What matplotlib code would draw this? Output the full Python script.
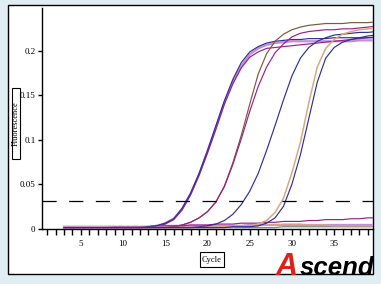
import matplotlib
matplotlib.use("Agg")
import matplotlib.pyplot as plt
import numpy as np
from matplotlib.patches import Rectangle

# ─────────────────────────────────────────────
# Datos (ciclos 3..40)
# ─────────────────────────────────────────────
ciclos = np.arange(3, 41)

azul_1 = [0.001, 0.001, 0.001, 0.001, 0.001, 0.001, 0.001, 0.001, 0.001, 0.001,
          0.002, 0.003, 0.006, 0.011, 0.023, 0.040, 0.062, 0.088, 0.116, 0.144,
          0.168, 0.187, 0.199, 0.205, 0.209, 0.211, 0.212, 0.213, 0.213, 0.214,
          0.214, 0.214, 0.215, 0.215, 0.215, 0.215, 0.215, 0.215]
purpura_1 = [0.001, 0.001, 0.001, 0.001, 0.001, 0.001, 0.001, 0.001, 0.001, 0.001,
             0.002, 0.003, 0.005, 0.010, 0.021, 0.038, 0.060, 0.085, 0.112, 0.140,
             0.163, 0.181, 0.193, 0.199, 0.203, 0.204, 0.205, 0.206, 0.207, 0.208,
             0.209, 0.210, 0.211, 0.212, 0.213, 0.214, 0.215, 0.216]
violeta_1 = [0.001, 0.001, 0.001, 0.001, 0.001, 0.001, 0.001, 0.001, 0.001, 0.001,
             0.002, 0.003, 0.006, 0.011, 0.022, 0.039, 0.061, 0.087, 0.114, 0.142,
             0.165, 0.183, 0.196, 0.203, 0.207, 0.209, 0.210, 0.211, 0.211, 0.211,
             0.211, 0.211, 0.211, 0.211, 0.211, 0.212, 0.212, 0.212]
marron_2 = [0.001, 0.001, 0.001, 0.001, 0.001, 0.001, 0.001, 0.001, 0.001, 0.001,
            0.001, 0.001, 0.001, 0.002, 0.004, 0.007, 0.012, 0.019, 0.030, 0.048,
            0.074, 0.105, 0.140, 0.174, 0.197, 0.211, 0.219, 0.224, 0.227, 0.229,
            0.230, 0.231, 0.231, 0.231, 0.232, 0.232, 0.232, 0.233]
magenta_2 = [0.001, 0.001, 0.001, 0.001, 0.001, 0.001, 0.001, 0.001, 0.001, 0.001,
             0.001, 0.001, 0.001, 0.002, 0.004, 0.007, 0.012, 0.019, 0.030, 0.047,
             0.072, 0.101, 0.132, 0.160, 0.182, 0.198, 0.208, 0.216, 0.220, 0.222,
             0.223, 0.224, 0.224, 0.225, 0.225, 0.226, 0.227, 0.228]
azul_3 = [0.001, 0.001, 0.001, 0.001, 0.001, 0.001, 0.001, 0.001, 0.001, 0.001,
          0.001, 0.001, 0.001, 0.001, 0.001, 0.001, 0.002, 0.003, 0.005, 0.009,
          0.016, 0.027, 0.042, 0.062, 0.088, 0.116, 0.145, 0.172, 0.192, 0.204,
          0.211, 0.215, 0.218, 0.219, 0.220, 0.221, 0.221, 0.222]
canela_4 = [0.001, 0.001, 0.001, 0.001, 0.001, 0.001, 0.001, 0.001, 0.001, 0.001,
            0.001, 0.001, 0.001, 0.001, 0.001, 0.001, 0.001, 0.001, 0.002, 0.002,
            0.002, 0.003, 0.003, 0.005, 0.009, 0.018, 0.034, 0.063, 0.097, 0.142,
            0.182, 0.203, 0.213, 0.219, 0.222, 0.224, 0.225, 0.226]
azul_4 = [0.001, 0.001, 0.001, 0.001, 0.001, 0.001, 0.001, 0.001, 0.001, 0.001,
          0.001, 0.001, 0.001, 0.001, 0.001, 0.001, 0.001, 0.001, 0.001, 0.001,
          0.002, 0.002, 0.002, 0.003, 0.006, 0.012, 0.025, 0.050, 0.083, 0.124,
          0.165, 0.192, 0.204, 0.210, 0.213, 0.215, 0.217, 0.218]

# negativos / línea base
magenta_neg = [0.001, 0.001, 0.001, 0.001, 0.001, 0.001, 0.002, 0.002, 0.002, 0.002,
               0.002, 0.003, 0.003, 0.003, 0.003, 0.004, 0.004, 0.004, 0.005, 0.005,
               0.005, 0.006, 0.006, 0.006, 0.007, 0.007, 0.008, 0.008, 0.008, 0.009,
               0.009, 0.010, 0.010, 0.010, 0.011, 0.011, 0.012, 0.012]
canela_neg = [0.001, 0.001, 0.001, 0.001, 0.001, 0.001, 0.001, 0.001, 0.001, 0.001,
              0.001, 0.001, 0.001, 0.001, 0.001, 0.001, 0.001, 0.001, 0.001, 0.002,
              0.002, 0.002, 0.003, 0.003, 0.004, 0.004, 0.005, 0.005, 0.005, 0.004,
              0.004, 0.004, 0.003, 0.003, 0.003, 0.003, 0.003, 0.003]
gris_neg = [0.000, 0.000, 0.000, 0.001, 0.001, 0.001, 0.001, 0.001, 0.001, 0.001,
            0.001, 0.001, 0.001, 0.001, 0.001, 0.001, 0.001, 0.001, 0.001, 0.001,
            0.001, 0.001, 0.001, 0.001, 0.001, 0.001, 0.002, 0.002, 0.002, 0.002,
            0.002, 0.002, 0.002, 0.002, 0.002, 0.002, 0.002, 0.002]
violeta_neg = [0.002, 0.002, 0.002, 0.002, 0.002, 0.002, 0.002, 0.002, 0.002, 0.002,
               0.002, 0.003, 0.003, 0.003, 0.003, 0.003, 0.003, 0.003, 0.003, 0.003,
               0.003, 0.003, 0.004, 0.004, 0.004, 0.004, 0.004, 0.004, 0.004, 0.004,
               0.004, 0.004, 0.004, 0.004, 0.004, 0.004, 0.004, 0.004]

umbral = 0.0315

ticks_x = list(range(1, 40))
etiquetas_x = [str(c) if c % 5 == 0 else "" for c in ticks_x]
ticks_y = [0, 0.05, 0.1, 0.15, 0.2]
etiquetas_y = ["0", "0.05", "0.1", "0.15", "0.2"]

# ─────────────────────────────────────────────
# Colores
# ─────────────────────────────────────────────
AZUL = "#2f2f9c"
PURPURA = "#9a1f8e"
VIOLETA = "#c48fcf"
MARRON = "#7a5a38"
CANELA = "#d8a97c"
GRIS = "#808080"
FONDO = "#e0eef4"

W, H = 381, 284
fig = plt.figure(figsize=(W / 100, H / 100), dpi=100, facecolor=FONDO)


def fx(px):
    return px / W


def fy(py):
    return (H - py) / H


# panel blanco con borde (detrás de los ejes)
panel = Rectangle((fx(8), fy(274)), fx(373) - fx(8), fy(5) - fy(274),
                  transform=fig.transFigure, facecolor="white",
                  edgecolor="black", linewidth=1.0, zorder=-5)
fig.patches.append(panel)

ax = fig.add_axes([fx(42), fy(228.5), fx(373) - fx(42), fy(8) - fy(228.5)])
ax.set_facecolor("none")
ax.set_zorder(1)

lw = 0.85
ax.plot(ciclos, violeta_neg, color=VIOLETA, lw=1.6, zorder=1)
ax.plot(ciclos, gris_neg, color=GRIS, lw=lw, zorder=2)
ax.plot(ciclos, canela_neg, color=CANELA, lw=lw, zorder=2)
ax.plot(ciclos, magenta_neg, color=PURPURA, lw=lw, zorder=2)

ax.plot(ciclos, violeta_1, color=VIOLETA, lw=1.6, zorder=2)
ax.plot(ciclos, purpura_1, color=PURPURA, lw=lw, zorder=3)
ax.plot(ciclos, azul_1, color=AZUL, lw=lw, zorder=3)
ax.plot(ciclos, marron_2, color=MARRON, lw=lw, zorder=3)
ax.plot(ciclos, magenta_2, color=PURPURA, lw=lw, zorder=3)
ax.plot(ciclos, azul_3, color=AZUL, lw=lw, zorder=3)
ax.plot(ciclos, canela_4, color=CANELA, lw=1.1, zorder=3)
ax.plot(ciclos, azul_4, color=AZUL, lw=lw, zorder=3)

linea = ax.axhline(umbral, color="black", lw=0.9, zorder=4)
linea.set_dashes((10.2 / 0.9, 9.0 / 0.9))

ax.set_xlim(0.4, 39.6)
ax.set_ylim(0, 0.2485)

for s in ["top", "right"]:
    ax.spines[s].set_visible(False)
for s in ["left", "bottom"]:
    ax.spines[s].set_linewidth(1.0)

ax.set_xticks(ticks_x)
ax.set_xticklabels(etiquetas_x, fontfamily="Liberation Serif", fontsize=6.5)
ax.set_yticks(ticks_y)
ax.set_yticklabels(etiquetas_y, fontfamily="Liberation Serif", fontsize=6.5)
ax.tick_params(axis="x", direction="out", length=4.5, width=1.0, pad=4.0,
               color="black")
ax.tick_params(axis="y", direction="out", length=3.2, width=1.0, pad=1.5,
               color="black")

# caja etiqueta eje Y
fig.patches.append(Rectangle((fx(12), fy(159)), fx(19.5) - fx(12), fy(88) - fy(159),
                             transform=fig.transFigure, facecolor="white",
                             edgecolor="black", linewidth=0.8, zorder=-4))
fig.text(fx(15.9), fy(123.5), "Fluorescence", rotation=90, ha="center", va="center",
         fontfamily="Liberation Serif", fontsize=6)

# caja etiqueta eje X
fig.patches.append(Rectangle((fx(200), fy(267)), fx(223.5) - fx(200), fy(252) - fy(267),
                             transform=fig.transFigure, facecolor="white",
                             edgecolor="black", linewidth=0.8, zorder=-4))
fig.text(fx(211.8), fy(259.5), "Cycle", ha="center", va="center",
         fontfamily="Liberation Serif", fontsize=6)

# logo
fig.text(fx(276), fy(275), "A", color="#e0201c", fontsize=22,
         fontfamily="Liberation Sans", fontweight="bold", fontstyle="italic",
         ha="left", va="baseline")
fig.text(fx(300), fy(275), "scend", color="black", fontsize=18.5,
         fontfamily="Liberation Sans", fontweight="bold", fontstyle="italic",
         ha="left", va="baseline")

fig.savefig("out.png", dpi=100, facecolor=FONDO)
